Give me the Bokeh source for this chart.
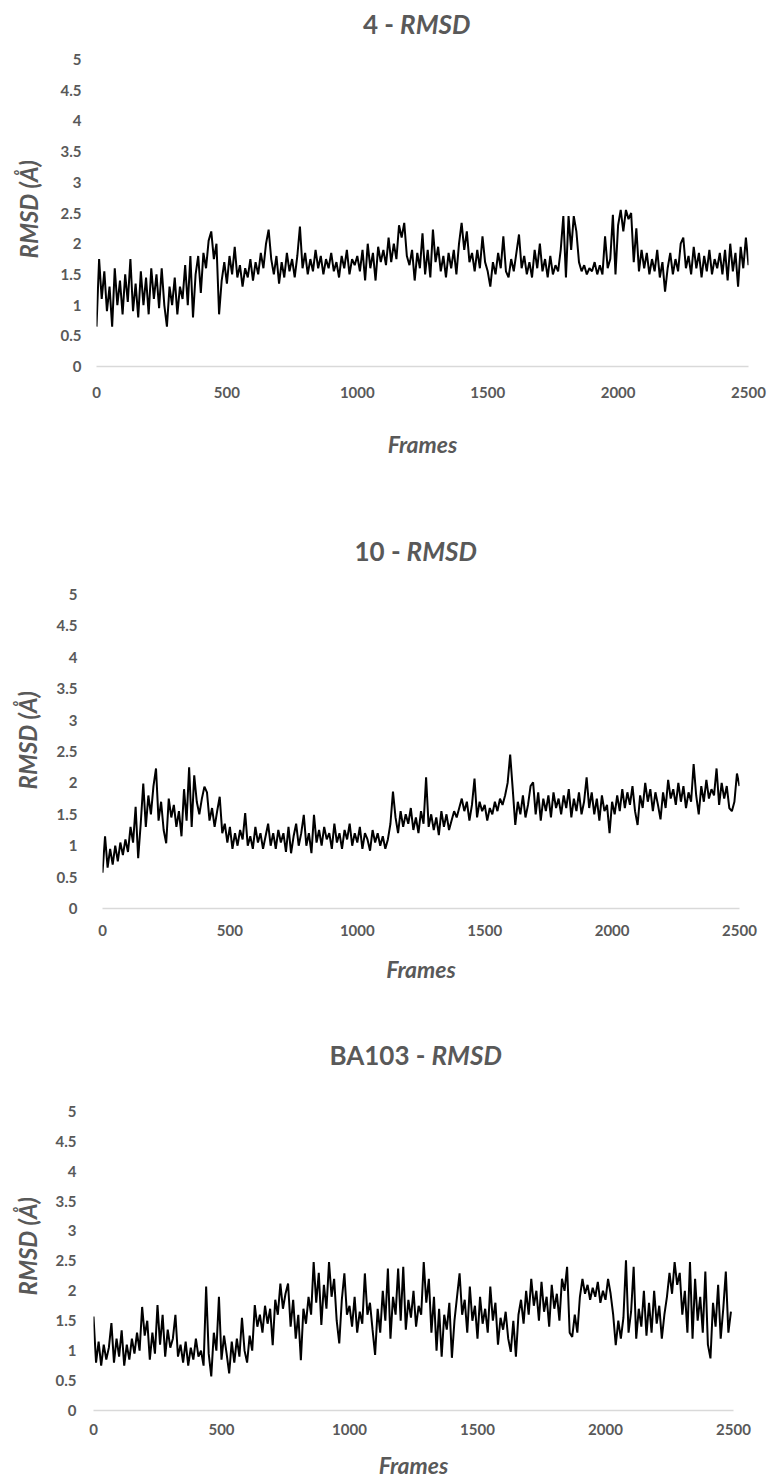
from bokeh.plotting import figure
from bokeh.models import FixedTicker, NumeralTickFormatter, Range1d, Title
from bokeh.core.properties import value
from bokeh.layouts import column
from bokeh.embed import file_html
from bokeh.resources import INLINE

# ---------------- data (every 10 frames) ----------------
titles = ["4", "10", "BA103"]
x_ticks = [0, 500, 1000, 1500, 2000, 2500]
y_ticks = [0, 0.5, 1, 1.5, 2, 2.5, 3, 3.5, 4, 4.5, 5]

frames_4 = list(range(0, 2501, 10))
rmsd_4 = [
    0.65, 1.75, 1.1, 1.55, 0.9, 1.3, 0.65, 1.6, 1.0, 1.4,
    0.85, 1.5, 1.05, 1.75, 0.9, 1.35, 0.8, 1.55, 1.0, 1.45,
    0.85, 1.6, 1.1, 1.5, 0.95, 1.6, 1.0, 0.65, 1.3, 1.0,
    1.45, 0.85, 1.3, 1.1, 1.65, 1.0, 1.8, 0.8, 1.5, 1.8,
    1.2, 1.85, 1.6, 2.05, 2.2, 1.75, 2.0, 0.85, 1.4, 1.7,
    1.35, 1.8, 1.5, 1.95, 1.45, 1.65, 1.3, 1.6, 1.45, 1.75,
    1.4, 1.7, 1.5, 1.85, 1.6, 2.0, 2.23, 1.75, 1.5, 1.8,
    1.35, 1.7, 1.45, 1.85, 1.55, 1.75, 1.45, 1.8, 2.28, 1.6,
    1.85, 1.5, 1.75, 1.55, 1.9, 1.6, 1.8, 1.5, 1.75, 1.6,
    1.85, 1.55, 1.7, 1.45, 1.8, 1.6, 1.9, 1.5, 1.75, 1.65,
    1.8, 1.55, 1.9, 1.4, 2.0, 1.6, 1.85, 1.4, 1.95, 1.7,
    1.9, 1.65, 2.1, 1.7, 2.0, 1.75, 2.3, 2.1, 2.34, 1.8,
    1.65, 1.9, 1.4, 1.85, 1.6, 2.17, 1.5, 1.9, 1.45, 2.23,
    1.7, 1.95, 1.55, 1.8, 1.45, 1.85, 1.6, 1.9, 1.5, 2.0,
    2.34, 1.9, 2.2, 1.7, 1.85, 1.55, 1.9, 1.6, 2.12, 1.7,
    1.55, 1.3, 1.7, 1.5, 1.85, 1.6, 2.12, 1.55, 1.45, 1.75,
    1.55, 1.85, 2.15, 1.6, 1.8, 1.5, 1.7, 1.45, 1.9, 1.6,
    2.0, 1.55, 1.75, 1.45, 1.8, 1.5, 1.65, 1.55, 1.9, 2.45,
    1.45, 2.45, 1.9, 2.45, 2.2, 1.7, 1.55, 1.65, 1.5, 1.6,
    1.55, 1.7, 1.5, 1.65, 1.5, 2.12, 1.6, 1.75, 2.47, 1.5,
    2.3, 2.55, 2.2, 2.55, 2.4, 2.5, 1.7, 2.25, 1.55, 1.9,
    1.6, 1.85, 1.5, 1.75, 1.55, 1.9, 1.45, 1.7, 1.22, 1.6,
    1.85, 1.5, 1.75, 1.55, 2.0, 2.1, 1.6, 1.8, 1.5, 1.95,
    1.6, 1.85, 1.45, 1.8, 1.55, 1.9, 1.5, 1.75, 1.6, 1.85,
    1.5, 1.9, 1.4, 2.0, 1.55, 1.85, 1.3, 1.95, 1.6, 2.1,
    1.65,
]

frames_10 = list(range(0, 2501, 10))
rmsd_10 = [
    0.57, 1.15, 0.65, 0.95, 0.7, 1.0, 0.75, 1.05, 0.85, 1.1,
    0.9, 1.3, 1.05, 1.62, 0.8, 1.35, 1.99, 1.3, 1.8, 1.5,
    1.95, 2.23, 1.4, 1.7, 1.25, 1.04, 1.75, 1.45, 1.65, 1.3,
    1.55, 1.15, 1.9, 1.4, 2.25, 1.3, 2.12, 1.7, 1.5, 1.75,
    1.94, 1.85, 1.4, 1.6, 1.3, 1.55, 1.78, 1.2, 1.35, 1.05,
    1.3, 0.95, 1.2, 1.0, 1.25, 1.1, 1.52, 1.0, 1.15, 0.95,
    1.3, 1.05, 1.2, 0.95, 1.15, 1.35, 1.0, 1.2, 0.95, 1.25,
    1.05, 1.2, 0.9, 1.3, 0.88, 1.15, 1.35, 1.0, 1.2, 1.49,
    1.0, 1.2, 0.88, 1.49, 1.05, 1.25, 1.0, 1.3, 1.1, 1.2,
    0.95, 1.35, 1.05, 1.2, 0.95, 1.25, 1.1, 1.35, 1.0, 1.2,
    1.05, 1.3, 0.95, 1.2, 1.1, 0.92, 1.25, 1.05, 1.2, 1.0,
    1.15, 0.95, 1.1, 1.35, 1.86, 1.45, 1.2, 1.55, 1.3, 1.5,
    1.35, 1.6, 1.25, 1.45, 1.2, 1.55, 1.35, 2.09, 1.3, 1.5,
    1.25, 1.45, 1.17, 1.55, 1.3, 1.5, 1.25, 1.4, 1.55, 1.45,
    1.6, 1.75, 1.55, 1.7, 1.4, 1.65, 2.07, 1.45, 1.7, 1.55,
    1.65, 1.4, 1.6, 1.5, 1.7, 1.55, 1.75, 1.65, 1.8, 2.0,
    2.45, 1.9, 1.33, 1.7, 1.5, 1.8, 1.45, 1.65, 1.95, 2.01,
    1.5, 1.85, 1.4, 1.75, 1.55, 1.8, 1.45, 1.85, 1.6, 1.75,
    1.5, 1.8, 1.6, 1.9, 1.45, 1.75, 1.55, 1.85, 1.5, 1.7,
    2.09, 1.6, 1.85, 1.5, 1.75, 1.4, 1.8, 1.55, 1.65, 1.2,
    1.7, 1.5, 1.8, 1.55, 1.9, 1.6, 1.85, 1.65, 1.95, 1.55,
    1.33, 1.8, 1.6, 2.0, 1.7, 1.9, 1.55, 1.85, 1.65, 1.42,
    1.85, 1.6, 2.05, 1.75, 1.9, 1.65, 2.0, 1.7, 1.95, 1.6,
    1.85, 1.7, 2.3, 1.8, 1.5, 1.95, 1.7, 2.05, 1.75, 1.9,
    1.8, 2.23, 1.65, 2.0, 1.75, 1.95, 1.6, 1.55, 1.7, 2.15,
    1.95,
]

frames_ba103 = list(range(0, 2491, 10))
rmsd_ba103 = [
    1.57, 0.8, 1.15, 0.75, 1.1, 0.85, 1.05, 1.46, 0.8, 1.2,
    0.9, 1.34, 0.75, 1.1, 0.85, 1.2, 0.95, 1.3, 1.0, 1.73,
    1.25, 1.5, 0.85, 1.3, 0.95, 1.76, 1.1, 1.6, 0.9, 1.35,
    1.05, 1.2, 1.6, 0.9, 1.1, 0.8, 1.15, 0.75, 1.05, 0.85,
    1.2, 0.9, 1.0, 0.75, 2.07, 0.95, 0.57, 1.3, 1.0, 1.9,
    0.85, 1.25, 0.95, 0.62, 1.15, 0.8, 1.2, 0.9, 1.55, 1.0,
    0.8, 1.25, 1.0, 1.76, 1.4, 1.6, 1.3, 1.75, 1.45, 1.7,
    1.09, 1.85, 1.6, 2.12, 1.7, 1.95, 2.12, 1.4, 1.85, 1.2,
    1.6, 0.84, 1.7, 1.45, 1.9, 1.6, 2.48, 1.8, 2.3, 1.43,
    2.1, 1.7, 2.48, 1.9, 2.2, 1.5, 1.12, 1.85, 2.29, 1.6,
    1.75, 1.4, 1.9, 1.3, 1.65, 1.45, 2.29, 1.6, 1.8, 1.35,
    0.93, 1.7, 1.3, 2.0, 1.5, 2.37, 1.2, 1.9, 1.6, 2.37,
    1.5, 2.4, 1.35, 1.85, 1.55, 2.0, 1.4, 1.75, 1.6, 2.48,
    1.8, 2.2, 1.3, 1.9, 1.0, 1.7, 0.9, 1.6, 1.35, 1.8,
    0.88, 1.5, 1.9, 2.29, 1.6, 1.85, 1.3, 2.07, 1.5, 1.75,
    1.2, 1.9, 1.45, 1.7, 1.3, 2.07, 1.5, 1.8, 1.1, 1.55,
    1.35, 1.65, 1.2, 0.98, 1.5, 0.9, 1.6, 1.85, 1.45, 2.0,
    1.6, 2.2, 1.75, 2.0, 1.5, 2.15, 1.65, 1.9, 1.4, 2.1,
    1.7, 1.95, 1.5, 2.2, 2.0, 2.4, 1.3, 1.23, 1.6, 1.3,
    1.9, 2.2, 1.95, 2.1, 1.85, 2.05, 1.9, 2.15, 1.8, 2.0,
    1.85, 2.2, 1.95, 1.6, 1.09, 1.5, 1.2, 1.55, 2.51, 1.3,
    1.65, 2.4, 1.2, 1.7, 1.4, 2.0, 1.25, 1.8, 1.3, 2.0,
    1.45, 1.75, 1.2, 1.6, 1.9, 2.3, 1.95, 2.48, 2.1, 2.3,
    1.6, 2.0, 1.3, 2.48, 1.2, 2.2, 1.5, 1.9, 1.3, 2.32,
    1.1, 0.87, 1.8, 1.4, 2.1, 1.2, 1.7, 2.32, 1.3, 1.65,
]

GREY = "#595959"
FONT = "Lato"
YLABEL_HALF = 48  # approx. half length of the rotated y title in px


def make_panel(frames, rmsd, name, canvas_top, five_px, zero_px, title_px,
               ylab_mid_px, height, left, right, split_x, ytick_standoff,
               ytitle_standoff, xtick_standoff, xlabel_standoff):
    unit = (zero_px - five_px) / 5.0
    y_top = (zero_px - canvas_top) / unit
    title_y = (zero_px - title_px) / unit
    frame_h = zero_px - canvas_top
    bottom = height - frame_h

    p = figure(width=769, height=height, output_backend="svg",
               toolbar_location=None, x_range=Range1d(0, 2500),
               y_range=Range1d(0, y_top),
               min_border_left=left, min_border_right=right,
               min_border_top=0, min_border_bottom=bottom)
    if "frame_align" in p.properties():
        p.frame_align = False
    p.outline_line_color = None
    p.grid.visible = False
    p.background_fill_color = "white"
    p.border_fill_color = "white"

    p.line(frames, rmsd, line_color="black", line_width=2.0)

    xa = p.xaxis[0]
    xa.ticker = FixedTicker(ticks=x_ticks)
    xa.axis_line_color = "#d9d9d9"
    xa.axis_line_width = 1.5
    xa.major_tick_line_color = None
    xa.minor_tick_line_color = None
    xa.major_tick_out = 0
    xa.major_tick_in = 0
    xa.minor_tick_out = 0
    xa.major_label_text_font = FONT
    xa.major_label_text_font_style = "bold"
    xa.major_label_text_font_size = "15px"
    xa.major_label_text_color = GREY
    xa.major_label_standoff = xtick_standoff
    xa.axis_label = "Frames"
    xa.axis_label_text_font = FONT
    xa.axis_label_text_font_style = "bold italic"
    xa.axis_label_text_font_size = "23px"
    xa.axis_label_text_color = GREY
    xa.axis_label_standoff = xlabel_standoff

    ya = p.yaxis[0]
    ya.ticker = FixedTicker(ticks=y_ticks)
    ya.formatter = NumeralTickFormatter(format="0.[0]")
    ya.axis_line_color = None
    ya.major_tick_line_color = None
    ya.minor_tick_line_color = None
    ya.major_tick_out = 0
    ya.major_tick_in = 0
    ya.minor_tick_out = 0
    ya.major_label_text_font = FONT
    ya.major_label_text_font_style = "bold"
    ya.major_label_text_font_size = "15px"
    ya.major_label_text_color = GREY
    ya.major_label_standoff = ytick_standoff

    offset = zero_px - ylab_mid_px - YLABEL_HALF
    p.add_layout(Title(text="RMSD (Å)", align="left", vertical_align="top",
                       offset=offset, standoff=ytitle_standoff,
                       text_font=FONT, text_font_style="bold italic",
                       text_font_size="24px", text_color=GREY), "left")

    p.text(x=[split_x], y=[title_y], text=[name + " -"],
           text_align="right", text_baseline="middle",
           text_font=value(FONT), text_font_style="bold",
           text_font_size="26px", text_color=GREY)
    p.text(x=[split_x], y=[title_y], text=["RMSD"], x_offset=6,
           text_align="left", text_baseline="middle",
           text_font=value(FONT), text_font_style="bold italic",
           text_font_size="26px", text_color=GREY)
    return p


p1 = make_panel(frames_4, rmsd_4, titles[0], 0, 59, 366, 23, 210,
                475, 93, 21, 1141, 15, 26, 20, 29)
p2 = make_panel(frames_10, rmsd_10, titles[1], 475, 594, 908, 550, 741,
                525, 102, 30, 1170, 25, 20, 16, 16)
p3 = make_panel(frames_ba103, rmsd_ba103, titles[2], 1000, 1111, 1411, 1055,
                1248, 481, 93, 36, 1297, 17, 18, 13, 13)

layout = column(p1, p2, p3, spacing=0)
open("out.html", "w").write(file_html(layout, INLINE))
